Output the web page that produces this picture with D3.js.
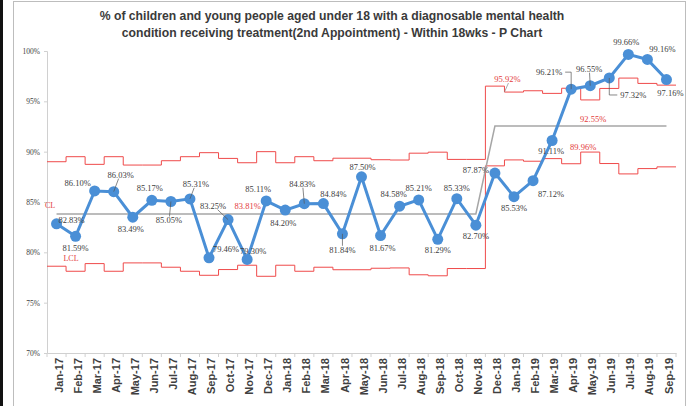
<!DOCTYPE html>
<html>
<head>
<meta charset="utf-8">
<script src="https://cdn.jsdelivr.net/npm/d3@7"></script>
<style>
  html, body { margin: 0; padding: 0; background: #fff; }
  svg { display: block; }
</style>
</head>
<body>
<svg id="chart" width="695" height="406"></svg>
<script>
// Monthly categories
const months = [
  "Jan-17","Feb-17","Mar-17","Apr-17","May-17","Jun-17","Jul-17","Aug-17","Sep-17","Oct-17","Nov-17","Dec-17",
  "Jan-18","Feb-18","Mar-18","Apr-18","May-18","Jun-18","Jul-18","Aug-18","Sep-18","Oct-18","Nov-18","Dec-18",
  "Jan-19","Feb-19","Mar-19","Apr-19","May-19","Jun-19","Jul-19","Aug-19","Sep-19"
];

// % treated within 18 weeks (2nd appointment)
const pct = [
  82.83, 81.59, 86.10, 86.03, 83.49, 85.17, 85.05, 85.31, 79.46, 83.25, 79.30, 85.11,
  84.20, 84.83, 84.84, 81.84, 87.50, 81.67, 84.58, 85.21, 81.29, 85.33, 82.70, 87.87,
  85.53, 87.12, 91.11, 96.21, 96.55, 97.32, 99.66, 99.16, 97.16
];

// Centre line (two phases)
const centreLine = [
  83.81, 83.81, 83.81, 83.81, 83.81, 83.81, 83.81, 83.81, 83.81, 83.81, 83.81, 83.81,
  83.81, 83.81, 83.81, 83.81, 83.81, 83.81, 83.81, 83.81, 83.81, 83.81, 83.81, 92.55,
  92.55, 92.55, 92.55, 92.55, 92.55, 92.55, 92.55, 92.55, 92.55
];

// Upper control limit
const ucl = [
  89.00, 89.50, 88.74, 89.50, 88.67, 88.67, 89.10, 89.50, 89.90, 89.33, 88.90, 90.00,
  88.90, 89.50, 89.10, 89.35, 89.35, 89.20, 89.17, 89.85, 89.95, 89.23, 89.23, 96.51,
  95.92, 96.05, 95.79, 96.30, 95.14, 96.28, 97.31, 96.78, 96.61
];

// Lower control limit
const lcl = [
  78.62, 78.12, 78.88, 78.12, 78.95, 78.95, 78.52, 78.12, 77.72, 78.29, 78.72, 77.62,
  78.72, 78.12, 78.52, 78.27, 78.27, 78.42, 78.45, 77.77, 77.67, 78.39, 78.39, 88.59,
  89.18, 89.05, 89.31, 88.80, 89.96, 88.82, 87.79, 88.32, 88.49
];

const yTicks = [70, 75, 80, 85, 90, 95, 100];

const titleLines = [
  "% of children and young people aged under 18 with a diagnosable mental health",
  "condition receiving treatment(2nd Appointment) - Within 18wks - P Chart"
];

// Label placement relative to each marker: [dx, dy, leader?]
const labelLayout = [
  [15,-4,0],[0,12,0],[-17,-8,0],[7,-17,1],[-2,12,0],[-2,-12,0],[-2,19,1],[6,-15,1],
  [17,-9,0],[-15,-14,1],[6,-8,0],[-8,-12,0],[-2,13,0],[-2,-20,1],[10,-10,0],[0,16,1],
  [1,-10,0],[2,12,0],[-6,-12,0],[0,-12,0],[0,11,0],[0,-11,0],[0,11,0],[-19,-3,0],
  [0,11,0],[18,13,0],[-1,11,0],[-22,-17,2],[-1,-17,1],[24,17,3],[-2,-12,0],[15,-10,0],[4,13,0]
];

const svg = d3.select("#chart");
const W = 695, H = 406;
const plot = { left: 47, right: 676, top: 51, bottom: 353 };

// Outer frame
svg.append("rect").attr("x", 0).attr("y", 0).attr("width", W).attr("height", H).attr("fill", "#fff");
svg.append("rect").attr("x", 0).attr("y", 0).attr("width", 3).attr("height", H).attr("fill", "#111");
svg.append("rect").attr("x", 13.5).attr("y", 1.5).attr("width", 672).attr("height", H + 10)
  .attr("fill", "none").attr("stroke", "#bdbdbd").attr("stroke-width", 1);

const x = d3.scaleBand().domain(months).range([plot.left, plot.right]).padding(0);
const y = d3.scaleLinear().domain([70, 100]).range([plot.bottom, plot.top]);
const cx = d => x(d) + x.bandwidth() / 2;

// Title
const title = svg.append("text")
  .attr("x", 332).attr("y", 20)
  .attr("text-anchor", "middle")
  .attr("font-family", "'Liberation Sans', Arial, sans-serif")
  .attr("font-weight", "bold")
  .attr("font-size", 12.2)
  .attr("fill", "#3a3a3a");
titleLines.forEach((t, i) => {
  title.append("tspan").attr("x", 332).attr("dy", i === 0 ? 0 : 17).text(t);
});

// Y axis
const yAxis = svg.append("g")
  .attr("transform", `translate(${plot.left},0)`)
  .call(d3.axisLeft(y).tickValues(yTicks).tickFormat(d => d + "%").tickSize(3).tickPadding(4));
yAxis.select(".domain").attr("stroke", "#d0d0d0");
yAxis.selectAll(".tick line").attr("stroke", "#d0d0d0");
yAxis.selectAll(".tick text")
  .attr("font-family", "'Liberation Serif', serif")
  .attr("font-size", 7.5)
  .attr("fill", "#404040");

// X axis: labels at band centres, ticks at band edges
const xAxis = svg.append("g")
  .attr("transform", `translate(0,${plot.bottom})`)
  .call(d3.axisBottom(x).tickSize(0));
xAxis.select(".domain").attr("stroke", "#d0d0d0");
xAxis.selectAll(".tick text")
  .attr("transform", "rotate(-90)")
  .attr("text-anchor", "end")
  .attr("x", -5)
  .attr("y", 0)
  .attr("dy", "0.55em")
  .attr("font-family", "'Liberation Sans', Arial, sans-serif")
  .attr("font-weight", "bold")
  .attr("font-size", 11)
  .attr("fill", "#404040");
const edges = months.map(m => x(m)).concat([x(months[months.length - 1]) + x.bandwidth()]);
svg.append("g").selectAll("line").data(edges).join("line")
  .attr("x1", d => d).attr("x2", d => d)
  .attr("y1", plot.bottom).attr("y2", plot.bottom + 4)
  .attr("stroke", "#d0d0d0");

// Step lines for the control limits: one flat run per month
function stepPoints(vals) {
  const pts = vals.map((v, i) => [x(months[i]), y(v)]);
  pts.push([x(months[months.length - 1]) + x.bandwidth(), y(vals[vals.length - 1])]);
  return pts;
}
const stepLine = d3.line().curve(d3.curveStepAfter);
[ucl, lcl].forEach(vals => {
  svg.append("path")
    .attr("d", stepLine(stepPoints(vals)))
    .attr("fill", "none")
    .attr("stroke", "#ef4a4a")
    .attr("stroke-width", 1);
});

// Centre line
svg.append("path")
  .attr("d", d3.line().x((d, i) => cx(months[i])).y(d => y(d))(centreLine))
  .attr("fill", "none")
  .attr("stroke", "#a6a6a6")
  .attr("stroke-width", 1.5);

// Limit annotations
const redText = (tx, ty, t, size) => svg.append("text")
  .attr("x", tx).attr("y", ty).attr("text-anchor", "middle").attr("dominant-baseline", "central")
  .attr("font-family", "'Liberation Serif', serif").attr("font-size", size || 8.5)
  .attr("fill", "#e33b3b").text(t);
redText(50, 205, "CL", 8);
redText(71, 258, "LCL", 8);
redText(x("Dec-17") - 9, 206, centreLine[0].toFixed(2) + "%");
redText(x("Jan-19") + 3, 79, ucl[24].toFixed(2) + "%");
redText(cx("May-19") + 3, 119, centreLine[32].toFixed(2) + "%");
redText(cx("May-19") - 7, 147, lcl[28].toFixed(2) + "%");
svg.append("line")
  .attr("x1", x("Jan-19") + 4).attr("y1", 83)
  .attr("x2", x("Jan-19")).attr("y2", y(ucl[24]))
  .attr("stroke", "#888").attr("stroke-width", 0.7);

// Data series
svg.append("path")
  .attr("d", d3.line().x((d, i) => cx(months[i])).y(d => y(d))(pct))
  .attr("fill", "none")
  .attr("stroke", "#4a8fd6")
  .attr("stroke-width", 3);

svg.append("g").selectAll("circle").data(pct).join("circle")
  .attr("cx", (d, i) => cx(months[i]))
  .attr("cy", d => y(d))
  .attr("r", 5.5)
  .attr("fill", "#4a8fd6");

// Leader lines and value labels
const labels = svg.append("g");
pct.forEach((v, i) => {
  const px = cx(months[i]), py = y(v);
  const [dx, dy, leader] = labelLayout[i];
  const lx = px + dx, ly = py + dy;
  if (leader === 1) {
    const sy = dy < 0 ? ly + 4 : ly - 4;
    labels.append("line")
      .attr("x1", lx + (px - lx) * 0.3).attr("y1", sy)
      .attr("x2", px).attr("y2", py)
      .attr("stroke", "#555").attr("stroke-width", 0.7);
  } else if (leader === 2) {
    labels.append("polyline")
      .attr("points", `${lx + 16},${ly} ${px},${ly} ${px},${py}`)
      .attr("fill", "none").attr("stroke", "#555").attr("stroke-width", 0.7);
  } else if (leader === 3) {
    labels.append("polyline")
      .attr("points", `${px},${py} ${px},${ly} ${lx - 16},${ly}`)
      .attr("fill", "none").attr("stroke", "#555").attr("stroke-width", 0.7);
  }
  labels.append("text")
    .attr("x", lx).attr("y", ly)
    .attr("text-anchor", "middle")
    .attr("dominant-baseline", "central")
    .attr("font-family", "'Liberation Serif', serif")
    .attr("font-size", 8.5)
    .attr("fill", "#404040")
    .text(v.toFixed(2) + "%");
});
</script>
</body>
</html>
